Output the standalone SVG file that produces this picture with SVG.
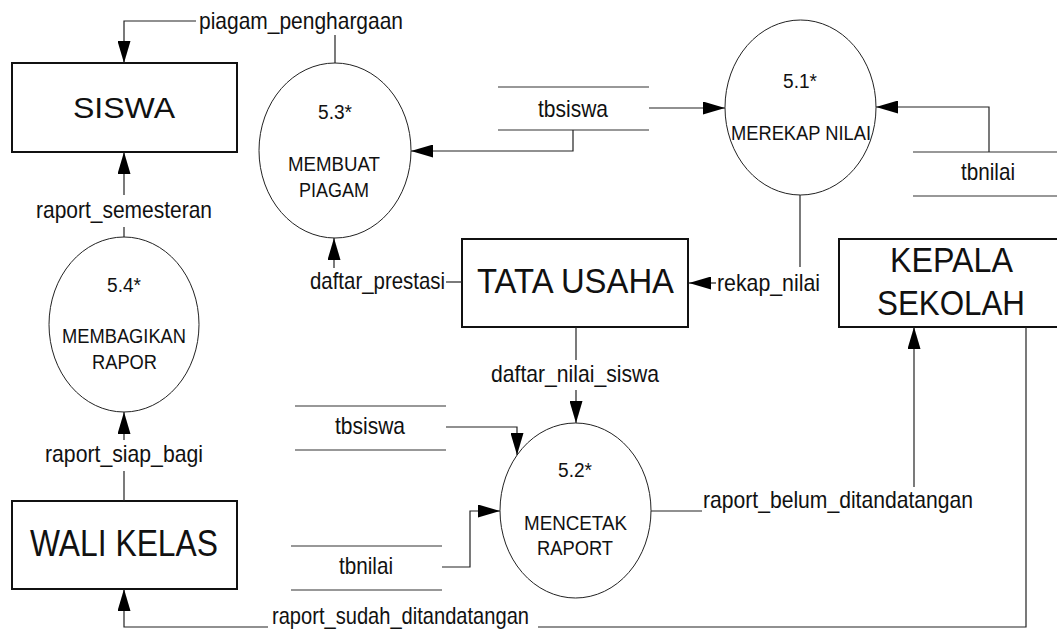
<svg xmlns="http://www.w3.org/2000/svg" width="1057" height="633" viewBox="0 0 1057 633">
  <style>
    .ent { fill: #fff; stroke: #111; stroke-width: 2; }
    .proc { fill: #fff; stroke: #222; stroke-width: 1; }
    .store { stroke: #333; stroke-width: 1.2; fill: none; }
    .flow { stroke: #222; stroke-width: 1.2; fill: none; }
    .arr { marker-end: url(#head); }
    text { font-family: "Liberation Sans Narrow", "Liberation Sans", Arial, sans-serif; fill: #111; }
    .lbl { font-size: 24px; }
    .ptx { font-size: 20px; }
    .etx { font-size: 35px; }
  </style>
  <defs>
    <marker id="head" markerUnits="userSpaceOnUse" markerWidth="22" markerHeight="13" refX="22" refY="6.5" orient="auto">
      <path d="M0,0 L22,6.5 L0,13 Z" fill="#000"/>
    </marker>
  </defs>

  <!-- external entities -->
  <g id="siswa">
    <rect class="ent" x="12" y="63" width="225" height="89"/>
    <text class="etx" x="73" y="118" font-size="30" textLength="102" lengthAdjust="spacingAndGlyphs" style="font-size:30px">SISWA</text>
  </g>
  <g id="tata-usaha">
    <rect class="ent" x="462" y="239" width="226" height="88"/>
    <text class="etx" x="477" y="293" textLength="197" lengthAdjust="spacingAndGlyphs">TATA USAHA</text>
  </g>
  <g id="kepala-sekolah">
    <rect class="ent" x="839" y="239" width="230" height="88"/>
    <text class="etx" x="890" y="272" textLength="123" lengthAdjust="spacingAndGlyphs">KEPALA</text>
    <text class="etx" x="877" y="315" textLength="148" lengthAdjust="spacingAndGlyphs">SEKOLAH</text>
  </g>
  <g id="wali-kelas">
    <rect class="ent" x="12" y="501" width="225" height="88"/>
    <text class="etx" x="30" y="556" textLength="188" lengthAdjust="spacingAndGlyphs" style="font-size:36px">WALI KELAS</text>
  </g>

  <!-- processes -->
  <g id="p51">
    <ellipse class="proc" cx="800.5" cy="107.5" rx="75.5" ry="87.5"/>
    <text class="ptx" x="800" y="88" text-anchor="middle" textLength="34" lengthAdjust="spacingAndGlyphs">5.1*</text>
    <text class="ptx" x="731" y="140" textLength="140" lengthAdjust="spacingAndGlyphs">MEREKAP NILAI</text>
  </g>
  <g id="p52">
    <ellipse class="proc" cx="575.5" cy="510.5" rx="75.5" ry="87.5"/>
    <text class="ptx" x="575" y="477" text-anchor="middle" textLength="34" lengthAdjust="spacingAndGlyphs">5.2*</text>
    <text class="ptx" x="524" y="530" textLength="103" lengthAdjust="spacingAndGlyphs">MENCETAK</text>
    <text class="ptx" x="537" y="555" textLength="76" lengthAdjust="spacingAndGlyphs">RAPORT</text>
  </g>
  <g id="p53">
    <ellipse class="proc" cx="335" cy="150.5" rx="76" ry="87.5"/>
    <text class="ptx" x="335" y="119" text-anchor="middle" textLength="34" lengthAdjust="spacingAndGlyphs">5.3*</text>
    <text class="ptx" x="288" y="171" textLength="92" lengthAdjust="spacingAndGlyphs">MEMBUAT</text>
    <text class="ptx" x="299" y="197" textLength="70" lengthAdjust="spacingAndGlyphs">PIAGAM</text>
  </g>
  <g id="p54">
    <ellipse class="proc" cx="124" cy="324.5" rx="75" ry="87.5"/>
    <text class="ptx" x="124" y="292" text-anchor="middle" textLength="34" lengthAdjust="spacingAndGlyphs">5.4*</text>
    <text class="ptx" x="62" y="343" textLength="124" lengthAdjust="spacingAndGlyphs">MEMBAGIKAN</text>
    <text class="ptx" x="92" y="369" textLength="65" lengthAdjust="spacingAndGlyphs">RAPOR</text>
  </g>

  <!-- data stores -->
  <g id="store-tbsiswa-1">
    <path class="store" d="M498,87 H649 M498,130 H649"/>
    <text class="lbl" x="538" y="117" textLength="70" lengthAdjust="spacingAndGlyphs">tbsiswa</text>
  </g>
  <g id="store-tbnilai-1">
    <path class="store" d="M913,152 H1057 M913,196 H1057"/>
    <text class="lbl" x="961" y="180" textLength="54" lengthAdjust="spacingAndGlyphs">tbnilai</text>
  </g>
  <g id="store-tbsiswa-2">
    <path class="store" d="M295,406 H446 M295,450 H446"/>
    <text class="lbl" x="335" y="434" textLength="70" lengthAdjust="spacingAndGlyphs">tbsiswa</text>
  </g>
  <g id="store-tbnilai-2">
    <path class="store" d="M291,546 H442 M291,590 H442"/>
    <text class="lbl" x="339" y="574" textLength="54" lengthAdjust="spacingAndGlyphs">tbnilai</text>
  </g>

  <!-- data flows -->
  <g id="flows">
    <!-- piagam_penghargaan: 5.3 -> SISWA -->
    <path class="flow" d="M335,63 V35"/>
    <path class="flow arr" d="M196,21 H124 V63"/>
    <text class="lbl" x="199" y="29" textLength="204" lengthAdjust="spacingAndGlyphs">piagam_penghargaan</text>

    <!-- tbsiswa -> 5.3 -->
    <path class="flow arr" d="M573,130 V151 H411"/>
    <!-- tbsiswa -> 5.1 -->
    <path class="flow arr" d="M649,108 H725"/>
    <!-- tbnilai -> 5.1 -->
    <path class="flow arr" d="M989,152 V107 H876"/>

    <!-- rekap_nilai: 5.1 -> TATA USAHA -->
    <path class="flow" d="M800,195 V267"/>
    <path class="flow arr" d="M716,283 H689"/>
    <text class="lbl" x="717" y="291" textLength="103" lengthAdjust="spacingAndGlyphs">rekap_nilai</text>

    <!-- daftar_prestasi: TATA USAHA -> 5.3 -->
    <path class="flow" d="M462,282 H446"/>
    <path class="flow arr" d="M334,268 V238"/>
    <text class="lbl" x="310" y="289" textLength="135" lengthAdjust="spacingAndGlyphs">daftar_prestasi</text>

    <!-- daftar_nilai_siswa: TATA USAHA -> 5.2 -->
    <path class="flow" d="M576,327 V360"/>
    <path class="flow arr" d="M576,390 V423"/>
    <text class="lbl" x="491" y="382" textLength="168" lengthAdjust="spacingAndGlyphs">daftar_nilai_siswa</text>

    <!-- tbsiswa -> 5.2 -->
    <path class="flow arr" d="M446,427 H517 V455"/>
    <!-- tbnilai -> 5.2 -->
    <path class="flow arr" d="M442,567 H470 V511 H500"/>

    <!-- raport_belum_ditandatangan: 5.2 -> KEPALA SEKOLAH -->
    <path class="flow" d="M651,511 H702"/>
    <path class="flow arr" d="M914,487 V327"/>
    <text class="lbl" x="703" y="508" textLength="270" lengthAdjust="spacingAndGlyphs">raport_belum_ditandatangan</text>

    <!-- raport_sudah_ditandatangan: KEPALA SEKOLAH -> WALI KELAS -->
    <path class="flow" d="M1026,327 V627 H538"/>
    <path class="flow arr" d="M268,627 H124 V589"/>
    <text class="lbl" x="272" y="624" textLength="257" lengthAdjust="spacingAndGlyphs">raport_sudah_ditandatangan</text>

    <!-- raport_semesteran: 5.4 -> SISWA -->
    <path class="flow" d="M124,237 V227"/>
    <path class="flow arr" d="M124,195 V152"/>
    <text class="lbl" x="36" y="218" textLength="176" lengthAdjust="spacingAndGlyphs">raport_semesteran</text>

    <!-- raport_siap_bagi: WALI KELAS -> 5.4 -->
    <path class="flow" d="M124,501 V471"/>
    <path class="flow arr" d="M124,440 V412"/>
    <text class="lbl" x="45" y="462" textLength="158" lengthAdjust="spacingAndGlyphs">raport_siap_bagi</text>
  </g>
</svg>
